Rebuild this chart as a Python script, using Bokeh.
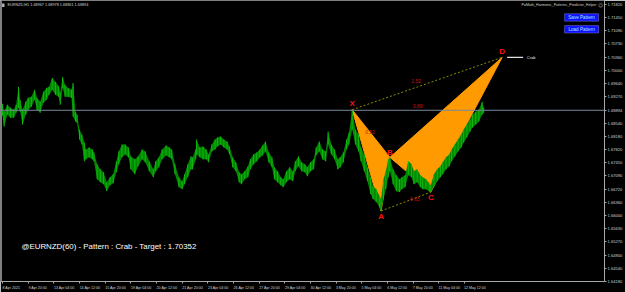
from bokeh.plotting import figure
from bokeh.models import (Range1d, LinearAxis, FixedTicker, Span, Label,
                          BoxAnnotation, NumeralTickFormatter)
from bokeh.core.properties import value
from bokeh.embed import file_html
from bokeh.resources import INLINE

# ---------------- data ----------------
symbol = "EURNZD"
timeframe = "H1"
ohlc_last = ["1.68967", "1.68978", "1.68861", "1.68894"]
bid_price = 1.68894

bars = [0, 2, 6, 10, 14, 17, 20, 22, 25, 29, 32, 36, 40, 43, 47, 51, 55, 58, 62, 66,
        70, 72, 75, 78, 82, 86, 88, 91, 93, 96, 99, 102, 104, 108, 112, 114, 118, 122, 126, 130,
        134, 138, 142, 145, 149, 153, 157, 160, 165, 169, 174, 178, 183, 188, 191, 195, 199, 204, 208, 211,
        215, 220, 224, 227, 231, 235, 237, 241, 242, 246, 250, 254, 257, 261, 265, 268, 272, 276, 280, 283,
        287, 291, 295, 298, 302, 306, 309, 313, 317, 321, 324, 328, 332, 336, 339, 343, 347, 350, 354, 358,
        362, 365, 369, 373, 377, 380, 384, 388, 391, 395, 399, 403, 406, 410, 414, 418, 421, 425, 429, 432,
        436, 440, 444, 447, 451, 455, 459, 462, 466, 470, 472, 475, 478, 481, 483, 487, 491, 495, 498, 502,
        506, 510, 513, 517, 521, 524, 528, 532, 534, 538, 542, 546, 549, 553, 557, 560, 564, 568, 572, 575,
        579, 583, 586, 590, 594, 598, 600]
highs = [1.69074, 1.68855, 1.69047, 1.68965, 1.68910, 1.69047, 1.69539, 1.69183, 1.68910, 1.69129,
         1.69238, 1.69265, 1.69457, 1.69238, 1.69129, 1.69402, 1.69511, 1.69539, 1.69785, 1.69675,
         1.69566, 1.69375, 1.69812, 1.69593, 1.69511, 1.69457, 1.69648, 1.68855, 1.68773, 1.68363,
         1.68226, 1.68008, 1.67816, 1.67871, 1.67816, 1.67734, 1.67406, 1.67269, 1.67187, 1.66914,
         1.67051, 1.67133, 1.67488, 1.67762, 1.67953, 1.67953, 1.67871, 1.67625, 1.67543, 1.67625,
         1.67816, 1.67762, 1.67488, 1.67269, 1.67488, 1.67598, 1.67816, 1.67926, 1.67871, 1.67816,
         1.67406, 1.67051, 1.66941, 1.67133, 1.67406, 1.67625, 1.67598, 1.67816, 1.68090, 1.67871,
         1.67898, 1.67816, 1.67680, 1.67953, 1.68090, 1.68144, 1.68172, 1.68090, 1.68035, 1.67898,
         1.67598, 1.67461, 1.67187, 1.67133, 1.67215, 1.67351, 1.67543, 1.67680, 1.67734, 1.67816,
         1.67926, 1.68035, 1.67734, 1.67598, 1.67324, 1.67215, 1.67051, 1.66996, 1.67215, 1.67324,
         1.67215, 1.67488, 1.67625, 1.67461, 1.67406, 1.67324, 1.67461, 1.67543, 1.67871, 1.68035,
         1.67816, 1.67762, 1.68308, 1.67953, 1.67816, 1.67543, 1.67598, 1.67734, 1.68090, 1.68281,
         1.68910, 1.68363, 1.68226, 1.67871, 1.67680, 1.67324, 1.67051, 1.66805, 1.66723, 1.66531,
         1.66449, 1.66996, 1.67215, 1.67543, 1.67598, 1.67269, 1.67105, 1.66996, 1.67051, 1.67105,
         1.67488, 1.67406, 1.67215, 1.67269, 1.67105, 1.67051, 1.66996, 1.66887, 1.66832, 1.67133,
         1.67269, 1.67351, 1.67461, 1.67598, 1.67680, 1.67816, 1.67953, 1.68090, 1.68226, 1.68363,
         1.68500, 1.68636, 1.68773, 1.68855, 1.68910, 1.69129, 1.68965]
lows = [1.68746, 1.68445, 1.68773, 1.68691, 1.68691, 1.68828, 1.68965, 1.68855, 1.68500, 1.68773,
        1.68910, 1.68992, 1.69183, 1.68910, 1.68828, 1.69101, 1.69183, 1.69320, 1.69457, 1.69320,
        1.69265, 1.69047, 1.69511, 1.69265, 1.69265, 1.69238, 1.68718, 1.68582, 1.68554, 1.68090,
        1.67953, 1.67488, 1.67543, 1.67598, 1.67543, 1.67488, 1.66996, 1.66914, 1.66859, 1.66668,
        1.66832, 1.66887, 1.67187, 1.67406, 1.67598, 1.67680, 1.67598, 1.67269, 1.67133, 1.67351,
        1.67543, 1.67461, 1.67215, 1.67051, 1.67215, 1.67324, 1.67543, 1.67652, 1.67598, 1.67543,
        1.67133, 1.66777, 1.66723, 1.66859, 1.67051, 1.67269, 1.67269, 1.67543, 1.67680, 1.67598,
        1.67543, 1.67543, 1.67461, 1.67762, 1.67816, 1.67898, 1.67953, 1.67871, 1.67816, 1.67680,
        1.67324, 1.67215, 1.66914, 1.66859, 1.66996, 1.67051, 1.67269, 1.67406, 1.67488, 1.67598,
        1.67652, 1.67762, 1.67461, 1.67324, 1.66996, 1.66914, 1.66832, 1.66777, 1.66914, 1.66996,
        1.66941, 1.67215, 1.67351, 1.67215, 1.67187, 1.67078, 1.67215, 1.67269, 1.67652, 1.67762,
        1.67543, 1.67488, 1.67953, 1.67680, 1.67543, 1.67269, 1.67324, 1.67461, 1.67816, 1.67953,
        1.68363, 1.67953, 1.67762, 1.67488, 1.67215, 1.66941, 1.66586, 1.66449, 1.66367, 1.66230,
        1.66121, 1.66449, 1.66723, 1.67051, 1.67215, 1.66859, 1.66668, 1.66641, 1.66723, 1.66777,
        1.67105, 1.67051, 1.66859, 1.66914, 1.66777, 1.66723, 1.66723, 1.66668, 1.66641, 1.66805,
        1.66941, 1.67051, 1.67133, 1.67269, 1.67351, 1.67488, 1.67625, 1.67762, 1.67871, 1.68008,
        1.68144, 1.68308, 1.68418, 1.68500, 1.68582, 1.68773, 1.68828]

pattern_name = "Crab"
target = 1.70352
pat_names = ["X", "A", "B", "C", "D"]
pat_bars = [436, 472, 483, 534, 623]
pat_prices = [1.68910, 1.66121, 1.67598, 1.66641, 1.70352]
ratio_texts = ["1.52", "3.89", "0.52", "0.65"]   # XD, CD/BC, AB/XA, BC/AB

time_tick_bars = [0, 32, 64, 96, 128, 160, 192, 224, 256, 288, 320, 352, 384, 416,
                  448, 480, 512, 544, 576]
time_tick_labels = ["8 Apr 2021", "9 Apr 20:00", "13 Apr 04:00", "14 Apr 12:00", "15 Apr 20:00",
                    "19 Apr 04:00", "20 Apr 12:00", "21 Apr 20:00", "23 Apr 04:00", "26 Apr 12:00",
                    "27 Apr 20:00", "29 Apr 04:00", "30 Apr 12:00", "3 May 20:00", "5 May 04:00",
                    "6 May 12:00", "7 May 20:00", "11 May 04:00", "12 May 12:00"]
price_ticks = [1.64180, 1.64540, 1.64900, 1.65270, 1.65630, 1.66000, 1.66360, 1.66720,
               1.67090, 1.67450, 1.67820, 1.68180, 1.68540, 1.69270, 1.69640, 1.70000,
               1.70360, 1.70730, 1.71090, 1.71450, 1.71820]

# ---------------- layout ----------------
W, H = 625, 292
FW, FH = 606, 283
X0, X1 = -2.49, 750.6
Y0, Y1 = 1.64180, 1.71917
KX = (X1 - X0) / FW          # bars per pixel
KY = (Y1 - Y0) / FH          # price per pixel


def sx(px):
    return X0 + KX * px


def sy(py):
    return Y1 - KY * py


FONT_NAME = "Liberation Sans"
FONT = value(FONT_NAME)

p = figure(width=W, height=H, output_backend="svg", toolbar_location=None,
           x_range=Range1d(X0, X1), y_range=Range1d(Y0, Y1),
           min_border_left=0, min_border_top=0, min_border_right=W - FW, min_border_bottom=H - FH,
           background_fill_color="black", border_fill_color="black", outline_line_color=None,
           x_axis_location=None, y_axis_location=None)
p.grid.visible = False

# price axis (right), including the current bid price
yticks = sorted(price_ticks + [bid_price])
yax = LinearAxis(ticker=FixedTicker(ticks=yticks, minor_ticks=[]),
                 formatter=NumeralTickFormatter(format="0.00000"))
yax.axis_line_color = "#a8a8a8"
yax.major_tick_line_color = "#a8a8a8"
yax.major_tick_out = 2
yax.major_tick_in = 0
yax.minor_tick_out = 0
yax.major_label_standoff = 1
yax.major_label_text_font = FONT_NAME
yax.major_label_text_font_size = "4.1px"
yax.major_label_text_color = "#d0d0d0"
p.add_layout(yax, "right")

# time axis (below): labels start at their tick, MT4 style
centers = [b + round(len(t) * 1.12) for b, t in zip(time_tick_bars, time_tick_labels)]
xax = LinearAxis(ticker=FixedTicker(ticks=centers, minor_ticks=time_tick_bars),
                 major_label_overrides={c: t for c, t in zip(centers, time_tick_labels)})
xax.axis_line_color = "#a8a8a8"
xax.major_tick_line_color = None
xax.major_tick_out = 0
xax.major_tick_in = 0
xax.minor_tick_line_color = "#a8a8a8"
xax.minor_tick_out = 2
xax.minor_tick_in = 0
xax.major_label_standoff = 2
xax.major_label_text_font = FONT_NAME
xax.major_label_text_font_size = "3.6px"
xax.major_label_text_color = "#d0d0d0"
p.add_layout(xax, "below")

# left window edge
p.add_layout(Span(location=X0, dimension="height", line_color="#808080", line_width=3))

# harmonic pattern triangles XAB and BCD
p.patch([pat_bars[0], pat_bars[1], pat_bars[2]], [pat_prices[0], pat_prices[1], pat_prices[2]],
        fill_color="#ff9a00", line_color="#ff9a00", line_width=1)
p.patch([pat_bars[2], pat_bars[3], pat_bars[4]], [pat_prices[2], pat_prices[3], pat_prices[4]],
        fill_color="#ff9a00", line_color="#ff9a00", line_width=1)

# price (green bars)
p.varea(x=bars, y1=lows, y2=highs, fill_color="#008600")
p.segment(x0=bars, y0=lows, x1=bars, y1=highs, line_color="#10b810", line_width=1)

# bid line
p.add_layout(Span(location=bid_price, dimension="width", line_color="#778899", line_width=1))

# dotted legs X-D and A-C
p.line([pat_bars[0], pat_bars[4]], [pat_prices[0], pat_prices[4]],
       line_color="#8c8c00", line_dash="2 2", line_width=1)
p.line([pat_bars[1], pat_bars[3]], [pat_prices[1], pat_prices[3]],
       line_color="#8c8c00", line_dash="2 2", line_width=1)

# ratio labels
anchors = [(0, 4), (0, 4), (0, 2), (1, 3)]
offsets = [(-11, -2.5), (-9.5, 22), (-1, -1.5), (9, -2.8)]
for txt, (i, j), (ox, oy) in zip(ratio_texts, anchors, offsets):
    p.text(x=[(pat_bars[i] + pat_bars[j]) / 2], y=[(pat_prices[i] + pat_prices[j]) / 2],
           text=[txt], x_offset=ox, y_offset=oy, text_font=FONT, text_font_size="5px",
           text_color="#d01010", text_align="center", text_baseline="middle")

# point letters
letter_dy = [-6, 5, -5, 5.5, -6]
for n, b, pr, dy in zip(pat_names, pat_bars, pat_prices, letter_dy):
    p.text(x=[b], y=[pr], text=[n], y_offset=dy, text_font=FONT, text_font_size="8px",
           text_font_style="bold", text_color="#ff1010", text_align="center",
           text_baseline="middle")

# pattern name marker at D
p.line([pat_bars[4] + 5 * KX, pat_bars[4] + 21 * KX], [pat_prices[4], pat_prices[4]],
       line_color="#e0e0e0", line_width=1.2)
p.text(x=[pat_bars[4] + 25 * KX], y=[pat_prices[4]], text=[pattern_name], text_font=FONT,
       text_font_size="3.9px", text_color="#e8e8e8", text_align="left", text_baseline="middle")

# info texts
p.add_layout(Label(x=sx(7), y=sy(5), text=f"{symbol},{timeframe}  " + " ".join(ohlc_last),
                   text_font=FONT_NAME, text_font_size="3.8px", text_color="#d0d0d0",
                   text_align="left", text_baseline="middle"))
p.add_layout(BoxAnnotation(left=sx(1.5), right=sx(4), top=sy(3), bottom=sy(6.5),
                           fill_color="#b0b0b0", fill_alpha=1, line_color=None))
p.add_layout(Label(x=sx(598), y=sy(5), text="PoMath_Harmonic_Patterns_Predictor_Helper",
                   text_font=FONT_NAME, text_font_size="3.65px", text_color="#d0d0d0",
                   text_align="right", text_baseline="middle"))
p.add_layout(Label(x=sx(602), y=sy(5), text="\u263a", text_font="DejaVu Sans",
                   text_font_size="5px", text_color="#c0c0c0",
                   text_align="center", text_baseline="middle"))

for top_px, label in [(13.3, "Save Pattern"), (25.3, "Load Pattern")]:
    p.add_layout(BoxAnnotation(left=sx(566), right=sx(600), top=sy(top_px), bottom=sy(top_px + 7.5),
                               fill_color="#1010ff", fill_alpha=1, line_color="#c8c8ff",
                               line_width=1))
    p.add_layout(Label(x=sx(583), y=sy(top_px + 3.8), text=label, text_font=FONT_NAME,
                       text_font_size="4.6px", text_color="#a8e8ff",
                       text_align="center", text_baseline="middle"))

p.add_layout(Label(x=sx(21), y=sy(247.5),
                   text=f"@{symbol}(60) - Pattern : {pattern_name} - Target : {target:.5f}",
                   text_font=FONT_NAME, text_font_size="7.9px", text_color="white",
                   text_align="left", text_baseline="middle"))

# bid price box on the price scale
p.add_layout(Label(x=X1, y=bid_price, x_offset=2, text=f"{bid_price:.5f}", text_font=FONT_NAME,
                   text_font_size="4.1px", text_color="black", background_fill_color="#e4e4e4",
                   border_line_color="#e4e4e4",
                   text_align="left", text_baseline="middle", padding=1))

open("out.html", "w").write(file_html(p, INLINE))
